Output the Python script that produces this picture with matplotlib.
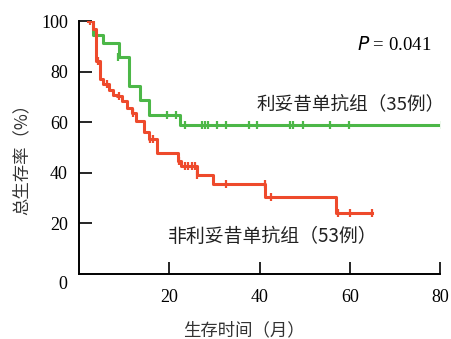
import numpy as np
import matplotlib.pyplot as plt

plt.rcParams['font.family'] = ['Noto Sans CJK SC', 'DejaVu Sans']

# survival steps (months, %)
green_t = [2.5, 3.1, 5.3, 8.9, 11.1, 13.5, 15.6, 22.4, 80.5]
green_s = [100, 94.3, 91.4, 85.7, 74.3, 68.6, 62.9, 58.9, 58.9]
green_ct = [8.7, 19.4, 21.6, 23.5, 27.2, 27.9, 28.5, 30.5, 32.5, 37.7, 39.4,
            46.8, 47.5, 49.7, 55.7, 59.9, 80.5]
green_cs = [85.7, 62.9, 62.9, 58.9, 58.9, 58.9, 58.9, 58.9, 58.9, 58.9, 58.9,
            58.9, 58.9, 58.9, 58.9, 58.9, 58.9]

red_t = [2.0, 3.0, 3.8, 4.7, 5.4, 6.7, 7.6, 8.5, 9.5, 10.6, 11.7, 12.6, 14.3,
         15.6, 17.2, 22.0, 22.5, 26.2, 29.6, 41.2, 56.9, 65.0]
red_s = [100, 97, 84, 77, 75.2, 72.9, 70.9, 70.2, 68.2, 65.6, 63.6, 60.5, 56.2,
         53.5, 47.7, 44.5, 42.5, 39.2, 35.5, 30.5, 24.2, 24.2]
red_ct = [2.5, 4.3, 6.1, 8.9, 12.0, 15.7, 16.5, 22.2, 23.5, 24.2, 25.0, 25.7,
          26.2, 32.6, 41.2, 42.6, 57.3, 60.0, 65.0]
red_cs = [100, 84, 75.2, 70.2, 63.6, 53.5, 53.5, 44.5, 42.5, 42.5, 42.5, 42.5,
          39.2, 35.5, 35.5, 30.5, 24.2, 24.2, 24.2]

green = '#4cb748'
red = '#ee4a2c'
serif = ['Liberation Serif', 'DejaVu Serif']

fig = plt.figure(figsize=(4.52, 3.39), dpi=100)
ax = fig.add_axes((0.1748, 0.1917, 0.7987, 0.7463))

ax.step(green_t, green_s, where='post', color=green, lw=2.2)
ax.plot(green_ct, green_cs, ls='none', marker='|', ms=5.5, mew=1.6, color=green)
ax.step(red_t, red_s, where='post', color=red, lw=2.2)
ax.plot(red_ct, red_cs, ls='none', marker='|', ms=5.5, mew=1.6, color=red)

ax.set_xlim(0, 80)
ax.set_ylim(0, 100)
ax.set_xticks([20, 40, 60, 80])
ax.set_yticks([20, 40, 60, 80, 100])
for s in ['top', 'right']:
    ax.spines[s].set_visible(False)
for s in ['left', 'bottom']:
    ax.spines[s].set_linewidth(1.4)
ax.tick_params(direction='in', length=9, width=1.2, labelsize=13)
ax.tick_params(axis='x', pad=11)
ax.tick_params(axis='y', pad=8)
for lab in ax.get_xticklabels() + ax.get_yticklabels():
    lab.set_family(serif)
ax.text(-0.044, -0.043, '0', transform=ax.transAxes, ha='center', va='center',
        fontsize=13, family=serif)

ax.text(39.3, 67.3, '利妥昔单抗组（35例）', fontsize=13.4, ha='left', va='center',
        color='#222222')
ax.text(19.7, 15.0, '非利妥昔单抗组（53例）', fontsize=13.6, ha='left', va='center',
        color='#222222')
ax.text(78.0, 90.7, r'$\it{P}$ = 0.041', fontsize=13.5, ha='right', va='center',
        family=serif)

fig.text(22 / 452, 1 - 155 / 339, '总生存率（%）', rotation=90, fontsize=12.5,
         ha='center', va='center', color='#333333')
fig.text(244 / 452, 1 - 330 / 339, '生存时间（月）', fontsize=12.5,
         ha='center', va='center', color='#333333')

fig.savefig('out.png', dpi=100)
